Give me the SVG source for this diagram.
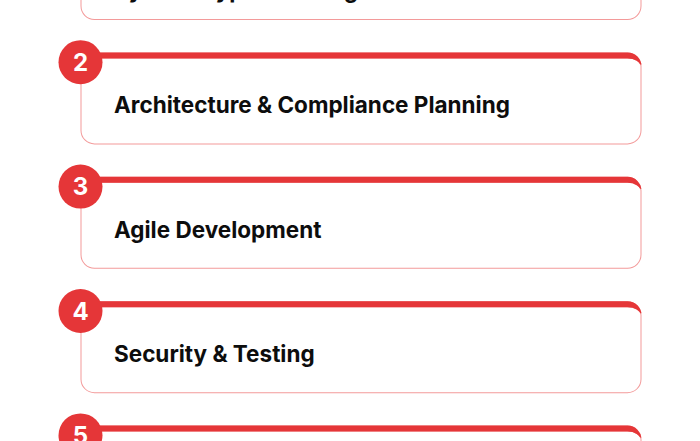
<svg xmlns="http://www.w3.org/2000/svg" xmlns:xlink="http://www.w3.org/1999/xlink" width="700" height="441" viewBox="0 0 700 441">
  <style>
    .title { font-family: Inter, "Liberation Sans", sans-serif; font-weight: 700; font-size: 22.5px; fill: #0d0d0d; }
    .num { font-family: Inter, "Liberation Sans", sans-serif; font-weight: 700; font-size: 24px; fill: #ffffff; text-anchor: middle; }
    .badge { fill: #e53638; }
  </style>
  <defs>
    <clipPath id="topclip"><rect x="-2" y="-2" width="565" height="14"/></clipPath>
    <g id="card">
      <path fill="#ffffff" d="M14,6 H547 A13,8 0 0 1 560,14 V78 A13,13 0 0 1 547,91 H14 A13,13 0 0 1 1,78 V14 A13,8 0 0 1 14,6 Z"/>
      <path fill-rule="evenodd" fill="#f39a9a" d="M14,0 H547 A14,14 0 0 1 561,14 V78 A14,14 0 0 1 547,92 H14 A14,14 0 0 1 0,78 V14 A14,14 0 0 1 14,0 Z M14,6 H547 A13,8 0 0 1 560,14 V78 A13,13 0 0 1 547,91 H14 A13,13 0 0 1 1,78 V14 A13,8 0 0 1 14,6 Z"/>
      <path fill-rule="evenodd" fill="#e53638" clip-path="url(#topclip)" d="M14,0 H547 A14,14 0 0 1 561,14 V78 A14,14 0 0 1 547,92 H14 A14,14 0 0 1 0,78 V14 A14,14 0 0 1 14,0 Z M14,6 H547 A13,8 0 0 1 560,14 V78 A13,13 0 0 1 547,91 H14 A13,13 0 0 1 1,78 V14 A13,8 0 0 1 14,6 Z"/>
    </g>
  </defs>
  <rect x="0" y="0" width="700" height="441" fill="#ffffff"/>
  <g id="connectors"></g>

  <g id="step1">
    <use xlink:href="#card" x="80.5" y="-72"/>
    <circle class="badge" cx="80.5" cy="-62" r="22"/>
    <text class="title" x="114" y="-2.5">System Type Planning</text>
  </g>

  <g id="step2">
    <use xlink:href="#card" x="80.5" y="52.4"/>
    <circle class="badge" cx="80.5" cy="62.2" r="22"/>
    <text class="num" x="80.5" y="71">2</text>
    <text class="title" x="114" y="113.4">Architecture &amp; Compliance Planning</text>
  </g>

  <g id="step3">
    <use xlink:href="#card" x="80.5" y="176.8"/>
    <circle class="badge" cx="80.5" cy="186.6" r="22"/>
    <text class="num" x="80.5" y="195.4">3</text>
    <text class="title" x="114" y="237.8">Agile Development</text>
  </g>

  <g id="step4">
    <use xlink:href="#card" x="80.5" y="301.2"/>
    <circle class="badge" cx="80.5" cy="311" r="22"/>
    <text class="num" x="80.5" y="319.8">4</text>
    <text class="title" x="114" y="362.2">Security &amp; Testing</text>
  </g>

  <g id="step5">
    <use xlink:href="#card" x="80.5" y="425.6"/>
    <circle class="badge" cx="80.5" cy="435.4" r="22"/>
    <text class="num" x="80.5" y="444.2">5</text>
  </g>
</svg>
